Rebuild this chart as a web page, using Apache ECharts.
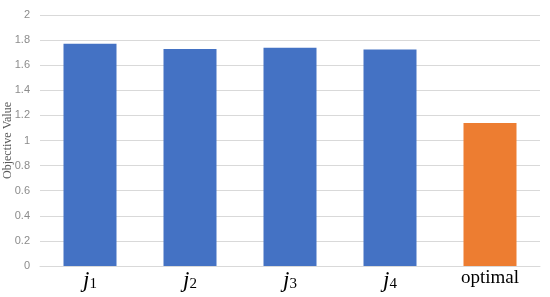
<!DOCTYPE html>
<html>
<head>
<meta charset="utf-8">
<script src="https://cdn.jsdelivr.net/npm/echarts@6/dist/echarts.min.js"></script>
<style>
  html, body { margin: 0; padding: 0; background: #fff; }
  #main { width: 550px; height: 297px; }
</style>
</head>
<body>
<div id="main"></div>
<script>
// data
var categories = ['j1', 'j2', 'j3', 'j4', 'optimal'];
var values = [1.77, 1.73, 1.74, 1.725, 1.14];
var barColors = ['#4472C4', '#4472C4', '#4472C4', '#4472C4', '#ED7D31'];
var yTicks = [0, 0.2, 0.4, 0.6, 0.8, 1, 1.2, 1.4, 1.6, 1.8, 2];

var chart = echarts.init(document.getElementById('main'));

var option = {
    animation: false,
    grid: { left: 40, right: 10, top: 15, bottom: 31, outerBoundsMode: 'none' },
    xAxis: {
        type: 'category',
        data: categories,
        axisLine: { lineStyle: { color: '#d9d9d9' } },
        axisTick: { show: false },
        axisLabel: {
            margin: 3,
            formatter: function (v) {
                if (v.charAt(0) === 'j') return '{j|j}{s|' + v.slice(1) + '}';
                return '{t|' + v + '}';
            },
            rich: {
                j: { fontFamily: 'Liberation Serif', fontStyle: 'italic', fontSize: 23, color: '#000' },
                s: { fontFamily: 'Liberation Serif', fontSize: 15, color: '#000', padding: [8, 0, 0, 0] },
                t: { fontFamily: 'Liberation Serif', fontSize: 19, color: '#000' }
            }
        }
    },
    yAxis: {
        type: 'value',
        min: 0,
        max: yTicks[yTicks.length - 1],
        interval: 0.2,
        name: 'Objective Value',
        nameLocation: 'middle',
        nameGap: 26,
        nameMoveOverlap: false,
        nameTextStyle: { fontFamily: 'Liberation Serif', fontSize: 12, color: '#595959' },
        axisLine: { show: false },
        axisTick: { show: false },
        axisLabel: {
            color: '#8c8c8c',
            fontSize: 11,
            margin: 10,
            formatter: function (v) { return String(Math.round(v * 10) / 10); }
        },
        splitLine: { lineStyle: { color: '#d9d9d9' } }
    },
    series: [{
        type: 'bar',
        barWidth: '53%',
        data: values.map(function (v, i) {
            return { value: v, itemStyle: { color: barColors[i] } };
        })
    }]
};

chart.setOption(option);
</script>
</body>
</html>
